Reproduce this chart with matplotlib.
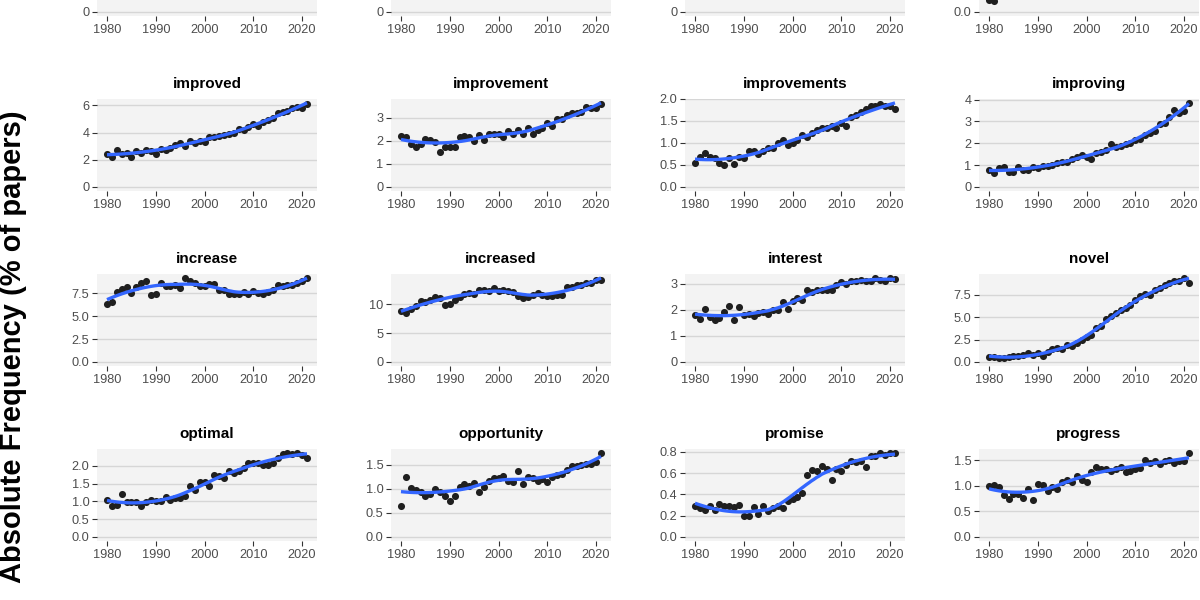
import numpy as np
import matplotlib
matplotlib.use("Agg")
import matplotlib.pyplot as plt

plt.rcParams['font.family'] = ['Liberation Sans', 'DejaVu Sans']

years = np.arange(1980, 2022)

# values (% of papers), one per year 1980..2021
improved = [2.4, 2.2, 2.7, 2.4, 2.5, 2.2, 2.65, 2.5, 2.75, 2.65, 2.4, 2.8, 2.7, 2.9,
            3.1, 3.2, 3.0, 3.4, 3.2, 3.4, 3.3, 3.65, 3.7, 3.75, 3.8, 3.9, 4.0, 4.25,
            4.15, 4.4, 4.6, 4.45, 4.8, 4.9, 5.1, 5.45, 5.5, 5.6, 5.8, 5.9, 5.8, 6.1]
improvement = [2.21, 2.18, 1.86, 1.75, 1.86, 2.1, 2.03, 1.96, 1.53, 1.75, 1.75, 1.75,
               2.15, 2.21, 2.18, 2.0, 2.25, 2.03, 2.28, 2.28, 2.28, 2.15, 2.44, 2.29,
               2.47, 2.32, 2.54, 2.29, 2.47, 2.54, 2.76, 2.64, 2.97, 2.93, 3.12, 3.19,
               3.22, 3.26, 3.48, 3.41, 3.41, 3.6]
improvements = [0.54, 0.69, 0.77, 0.68, 0.65, 0.54, 0.49, 0.65, 0.52, 0.69, 0.65, 0.81,
                0.81, 0.75, 0.81, 0.88, 0.88, 1.0, 1.07, 0.96, 1.0, 1.07, 1.19, 1.13,
                1.22, 1.3, 1.34, 1.34, 1.38, 1.34, 1.45, 1.39, 1.6, 1.64, 1.7, 1.76,
                1.83, 1.85, 1.89, 1.85, 1.83, 1.76]
improving = [0.78, 0.62, 0.85, 0.93, 0.7, 0.7, 0.9, 0.78, 0.78, 0.93, 0.85, 0.96, 0.97,
             1.0, 1.08, 1.16, 1.16, 1.26, 1.38, 1.46, 1.38, 1.28, 1.54, 1.61, 1.69, 1.95,
             1.84, 1.89, 1.96, 2.0, 2.14, 2.22, 2.37, 2.45, 2.57, 2.9, 2.93, 3.2, 3.54,
             3.39, 3.5, 3.85]
increase = [6.26, 6.5, 7.57, 7.94, 8.16, 7.5, 8.16, 8.6, 8.78, 7.32, 7.39, 8.6, 8.23,
            8.23, 8.4, 8.05, 9.15, 8.78, 8.6, 8.3, 8.3, 8.5, 8.5, 7.87, 7.87, 7.39, 7.43,
            7.43, 7.57, 7.39, 7.76, 7.5, 7.43, 7.57, 7.87, 8.4, 8.23, 8.4, 8.4, 8.6,
            8.78, 9.15]
increased = [8.8, 8.5, 9.1, 9.65, 10.6, 10.4, 10.7, 11.3, 11.0, 9.8, 10.0, 10.7, 11.3,
             11.7, 11.95, 11.7, 12.4, 12.4, 12.3, 12.7, 12.3, 12.4, 12.3, 12.1, 11.4,
             11.0, 11.3, 11.55, 11.84, 11.55, 11.4, 11.4, 11.55, 11.55, 12.9, 13.0,
             13.3, 13.3, 13.6, 13.7, 14.1, 14.1]
interest = [1.81, 1.65, 2.03, 1.72, 1.6, 1.69, 1.9, 2.16, 1.62, 2.09, 1.81, 1.85, 1.75,
            1.88, 1.9, 1.85, 1.98, 2.0, 2.29, 2.03, 2.32, 2.45, 2.39, 2.77, 2.67, 2.75,
            2.77, 2.77, 2.77, 2.96, 3.05, 3.0, 3.09, 3.09, 3.15, 3.09, 3.09, 3.22, 3.15,
            3.09, 3.22, 3.18]
novel = [0.6, 0.52, 0.41, 0.49, 0.6, 0.67, 0.67, 0.78, 1.04, 0.78, 0.97, 0.67, 1.16,
         1.42, 1.53, 1.42, 1.9, 1.79, 2.16, 2.46, 2.76, 3.02, 3.77, 3.96, 4.78, 5.15,
         5.45, 5.75, 6.0, 6.38, 6.94, 7.31, 7.57, 7.5, 7.99, 8.25, 8.62, 8.8, 9.0, 9.0,
         9.37, 8.8]
optimal = [1.05, 0.88, 0.91, 1.21, 0.97, 0.97, 0.97, 0.86, 0.97, 1.03, 1.0, 1.0, 1.12,
           1.05, 1.09, 1.09, 1.14, 1.44, 1.31, 1.53, 1.53, 1.42, 1.75, 1.72, 1.65, 1.84,
           1.79, 1.84, 1.93, 2.09, 2.09, 2.09, 2.03, 2.03, 2.09, 2.21, 2.34, 2.36, 2.34,
           2.36, 2.31, 2.21]
opportunity = [0.64, 1.24, 1.02, 0.97, 0.94, 0.85, 0.89, 1.0, 0.94, 0.86, 0.75, 0.85,
               1.05, 1.1, 1.07, 1.12, 0.94, 1.05, 1.17, 1.22, 1.22, 1.26, 1.17, 1.15,
               1.38, 1.1, 1.24, 1.22, 1.17, 1.21, 1.15, 1.24, 1.29, 1.31, 1.4, 1.47, 1.47,
               1.49, 1.52, 1.52, 1.57, 1.75]
promise = [0.295, 0.27, 0.25, 0.29, 0.25, 0.31, 0.29, 0.295, 0.28, 0.30, 0.195, 0.2,
           0.28, 0.22, 0.295, 0.24, 0.27, 0.29, 0.27, 0.335, 0.36, 0.38, 0.41, 0.58,
           0.63, 0.62, 0.665, 0.64, 0.54, 0.64, 0.62, 0.68, 0.715, 0.70, 0.715, 0.66,
           0.76, 0.76, 0.79, 0.775, 0.785, 0.785]
progress = [0.99, 1.02, 0.98, 0.81, 0.74, 0.83, 0.83, 0.76, 0.93, 0.72, 1.04, 1.02, 0.89,
            0.98, 0.93, 1.07, 1.11, 1.07, 1.19, 1.12, 1.07, 1.27, 1.37, 1.33, 1.32, 1.29,
            1.33, 1.37, 1.27, 1.29, 1.32, 1.35, 1.51, 1.45, 1.48, 1.42, 1.48, 1.51, 1.44,
            1.48, 1.48, 1.64]

words = ["improved", "improvement", "improvements", "improving",
         "increase", "increased", "interest", "novel",
         "optimal", "opportunity", "promise", "progress"]
series = [improved, improvement, improvements, improving,
          increase, increased, interest, novel,
          optimal, opportunity, promise, progress]
yticks = [[0, 2, 4, 6], [0, 1, 2, 3], [0, 0.5, 1, 1.5, 2], [0, 1, 2, 3, 4],
          [0, 2.5, 5, 7.5], [0, 5, 10], [0, 1, 2, 3], [0, 2.5, 5, 7.5],
          [0, 0.5, 1, 1.5, 2], [0, 0.5, 1, 1.5], [0, 0.2, 0.4, 0.6, 0.8], [0, 0.5, 1, 1.5]]
decimals = [0, 0, 1, 0, 1, 0, 0, 1, 1, 1, 1, 1]

# top row is cut off by the crop: only its zero line and x axis show
top_decimals = [0, 0, 0, 1]
top_ymax = [5, 5, 5, 1.6]
top4_years = [1980, 1981]
top4_vals = [0.22, 0.2]

xlabels = [1980, 1990, 2000, 2010, 2020]


def loess(x, y, xs, span=0.75):
    x = np.asarray(x, float)
    y = np.asarray(y, float)
    q = int(np.floor(len(x) * span))
    out = []
    for x0 in xs:
        d = np.abs(x - x0)
        h = np.sort(d)[q - 1]
        w = np.clip(1 - (d / h) ** 3, 0, None) ** 3
        c = np.polyfit(x - x0, y, 2, w=np.sqrt(w))
        out.append(c[-1])
    return np.array(out)


fig = plt.figure(figsize=(12, 6), dpi=100)

panel_w, panel_h = 220, 92.5
left0, top0 = 97, -76.3
dx, dy = 294, 175
xlo, xhi = 1980 - 0.05 * 41, 2021 + 0.05 * 41


def make_ax(r, c):
    x = left0 + c * dx
    y = top0 + r * dy
    ax = fig.add_axes([x / 1200, 1 - (y + panel_h) / 600, panel_w / 1200, panel_h / 600])
    ax.set_facecolor("#f3f3f3")
    for s in ax.spines.values():
        s.set_visible(False)
    ax.set_xlim(xlo, xhi)
    ax.set_xticks(xlabels)
    ax.set_xticklabels([str(v) for v in xlabels])
    ax.tick_params(axis="both", colors="#333333", labelcolor="#4d4d4d",
                   labelsize=9.2, length=3.5, width=0.8, pad=2)
    ax.grid(axis="y", color="#d6d6d6", linewidth=1.0)
    ax.set_axisbelow(True)
    return ax


def set_y(ax, ticks, dec, ymax):
    ax.set_ylim(-0.05 * ymax, 1.05 * ymax)
    ax.set_yticks(ticks)
    ax.set_yticklabels([f"{t:.{dec}f}" for t in ticks])


# cut-off top row
for c in range(4):
    ax = make_ax(0, c)
    set_y(ax, [0], top_decimals[c], top_ymax[c])
    if c == 3:
        ax.scatter(top4_years, top4_vals, s=26, color="#1f1f1f", zorder=3, linewidths=0)

xs = np.linspace(1980, 2021, 80)
for i, (word, vals) in enumerate(zip(words, series)):
    r, c = divmod(i, 4)
    ax = make_ax(r + 1, c)
    sm = loess(years, vals, xs)
    ymax = max(max(vals), sm.max())
    set_y(ax, yticks[i], decimals[i], ymax)
    ax.scatter(years, vals, s=26, color="#1f1f1f", zorder=3, linewidths=0)
    ax.plot(xs, sm, color="#3366ff", linewidth=2.4, zorder=4, solid_capstyle="butt")
    ax.set_title(word, fontsize=11, fontweight="bold", pad=8)

fig.text(0.0105, 0.422, "Absolute Frequency (% of papers)", rotation=90,
         fontsize=21, fontweight="bold", ha="center", va="center")

fig.savefig("out.png", dpi=100, facecolor="white")
